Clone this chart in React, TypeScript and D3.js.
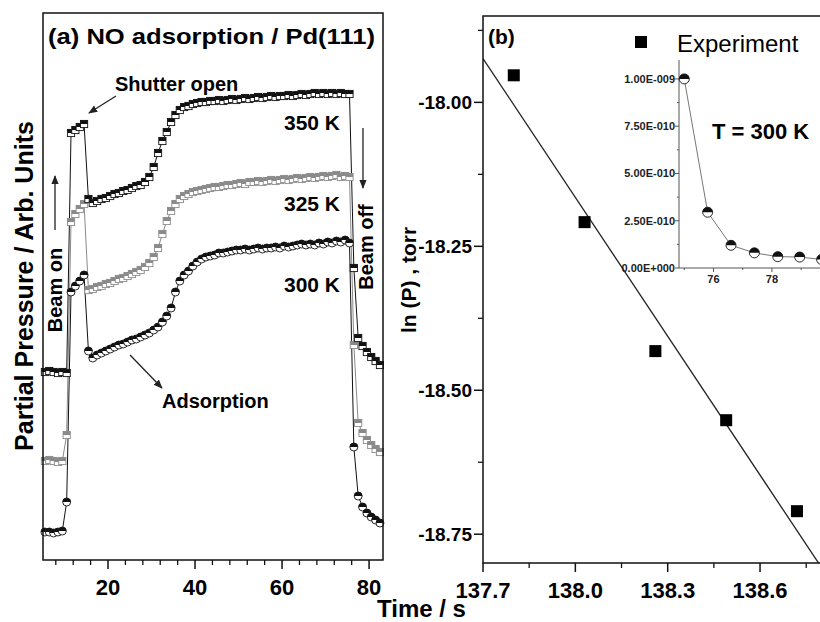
import * as d3 from 'd3';

const FONT = '"Liberation Sans", Arial, Helvetica, sans-serif';

// ---- panel (a): NO adsorption on Pd(111), time traces (arb. units) ----
const times = [
  5.5, 6.5, 7.5, 8.5, 9.5, 10.5, 11.5, 12.5, 13.5, 14.5,
  15.5, 16.5, 17.5, 18.5, 19.5, 20.5, 21.5, 22.5, 23.5, 24.5,
  25.5, 26.5, 27.5, 28.5, 29.5, 30.5, 31.5, 32.5, 33.5, 34.5,
  35.5, 36.5, 37.5, 38.5, 39.5, 40.5, 41.5, 42.5, 43.5, 44.5,
  45.5, 46.5, 47.5, 48.5, 49.5, 50.5, 51.5, 52.5, 53.5, 54.5,
  55.5, 56.5, 57.5, 58.5, 59.5, 60.5, 61.5, 62.5, 63.5, 64.5,
  65.5, 66.5, 67.5, 68.5, 69.5, 70.5, 71.5, 72.5, 73.5, 74.5,
  75.5, 76.5, 77.5, 78.5, 79.5, 80.5, 81.5, 82.5,
];

const k350 = [
  188, 189, 188, 187, 188, 187, 427, 430, 433, 436,
  361, 357, 359, 361, 362, 364, 366, 367, 369, 370,
  372, 374, 375, 378, 383, 393, 407, 419, 428, 438,
  445, 450, 453, 454, 456, 457, 458, 458, 459, 459,
  460, 459, 460, 461, 460, 461, 462, 461, 462, 463,
  462, 463, 464, 463, 464, 464, 465, 464, 465, 466,
  465, 466, 467, 466, 467, 466, 467, 466, 467, 466,
  466, 292, 222, 214, 208, 203, 199, 195,
];

const k325 = [
  99, 100, 99, 98, 99, 125, 338, 346, 351, 356,
  270, 271, 273, 274, 276, 277, 279, 281, 282, 284,
  286, 288, 290, 293, 297, 303, 312, 326, 339, 349,
  356, 361, 364, 366, 368, 369, 370, 371, 372, 373,
  373, 374, 375, 375, 376, 377, 376, 378, 378, 379,
  378, 379, 380, 379, 380, 381, 380, 381, 382, 381,
  382, 383, 382, 383, 384, 383, 384, 385, 383, 384,
  383, 215, 137, 127, 120, 115, 111, 108,
];

const k300 = [
  28, 28, 27, 28, 29, 58, 268, 274, 279, 285,
  209, 202, 205, 207, 209, 211, 213, 215, 216, 218,
  220, 221, 223, 225, 227, 230, 233, 238, 244, 252,
  268, 279, 285, 289, 294, 298, 301, 303, 304, 305,
  307, 307, 308, 309, 310, 310, 311, 310, 311, 312,
  311, 312, 312, 313, 312, 314, 313, 314, 315, 316,
  315, 316, 315, 317, 316, 318, 317, 319, 318, 320,
  317, 113, 64, 53, 47, 43, 40, 37,
];

// ---- panel (b): ln(P) vs time ----
const expTime = [137.8, 138.03, 138.26, 138.49, 138.72];
const expLnP = [-17.953, -18.208, -18.432, -18.552, -18.71];
const fitTime = [137.7, 138.8];
const fitLnP = [-17.924, -18.808];

// ---- inset: P vs time at 300 K ----
const insetTime = [75.0, 75.8, 76.6, 77.4, 78.2, 78.95, 79.7];
const insetP = [1.0e-9, 2.95e-10, 1.2e-10, 0.8e-10, 0.6e-10, 0.58e-10, 0.45e-10];
const insetYTicks = [0, 2.5e-10, 5e-10, 7.5e-10, 1e-9];
const insetYLabels = ['0.00E+000', '2.50E-010', '5.00E-010', '7.50E-010', '1.00E-009'];

const aXMajor = [20, 40, 60, 80];
const bXMajor = [137.7, 138.0, 138.3, 138.6];
const bXLabels = ['137.7', '138.0', '138.3', '138.6'];
const bXMinor = [137.85, 138.15, 138.45, 138.75];
const bYMajor = [-18.0, -18.25, -18.5, -18.75];
const bYLabels = ['-18.00', '-18.25', '-18.50', '-18.75'];
const bYMinor = [-17.875, -18.125, -18.375, -18.625];

const HalfSquare = ({ cx, cy, color }: { cx: number; cy: number; color: string }) => (
  <g>
    <rect x={cx - 3.6} y={cy - 3.6} width={7.2} height={7.2} fill="#fff" stroke={color} strokeWidth={0.9} />
    <rect x={cx - 3.6} y={cy - 3.6} width={7.2} height={3.6} fill={color} />
  </g>
);

const HalfCircle = ({ cx, cy, r }: { cx: number; cy: number; r: number }) => (
  <g>
    <circle cx={cx} cy={cy} r={r} fill="#fff" stroke="#111" strokeWidth={0.9} />
    <path d={`M${cx - r},${cy} A${r},${r} 0 0 1 ${cx + r},${cy} Z`} fill="#111" />
  </g>
);

export default function App() {
  // panel (a)
  const xA = d3.scaleLinear().domain([5.06, 83.2]).range([43, 383]);
  const yA = d3.scaleLinear().domain([0, 547]).range([560, 13]);
  const lineA = (vals: number[]) =>
    d3.line<number>().x((_, i) => xA(times[i])).y((v) => yA(v))(vals) || '';

  const series = [
    { key: 's325', vals: k325, color: '#8a8a8a', shape: 'sq' },
    { key: 's350', vals: k350, color: '#111', shape: 'sq' },
    { key: 's300', vals: k300, color: '#111', shape: 'ci' },
  ];

  // panel (b)
  const xB = d3.scaleLinear().domain([137.7, 138.8]).range([483, 821.6]);
  const yB = d3.scaleLinear().domain([-18.8, -17.85]).range([563, 16]);

  // inset
  const xI = d3.scaleLinear().domain([74.82, 80.5]).range([679, 845]);
  const yI = d3.scaleLinear().domain([0, 1.1e-9]).range([268, 60]);
  const insetLine = d3.line<number>().x((_, i) => xI(insetTime[i])).y((v) => yI(v))(insetP) || '';

  const aMinor = d3.range(8, 84, 4).filter((t) => t % 20 !== 0);

  return (
    <div style={{ position: 'absolute', left: 0, top: 0 }}>
      <svg width={820} height={622} style={{ display: 'block', background: '#fff', fontFamily: FONT }}>
        <defs>
          <marker id="ah" viewBox="0 0 10 10" refX={9} refY={5} markerWidth={7} markerHeight={7} orient="auto">
            <path d="M0,1 L10,5 L0,9 z" fill="#222" />
          </marker>
          <clipPath id="clipB">
            <rect x={483} y={16} width={340} height={547} />
          </clipPath>
        </defs>

        {/* ===== panel (a) ===== */}
        {series.map((s) => (
          <path key={s.key + 'l'} d={lineA(s.vals)} fill="none" stroke={s.color} strokeWidth={1} />
        ))}
        {series.map((s) =>
          s.vals.map((v, i) =>
            s.shape === 'sq' ? (
              <HalfSquare key={s.key + i} cx={xA(times[i])} cy={yA(v)} color={s.color} />
            ) : (
              <HalfCircle key={s.key + i} cx={xA(times[i])} cy={yA(v)} r={4} />
            )
          )
        )}

        <rect x={43} y={13} width={340} height={547} fill="none" stroke="#111" strokeWidth={1.5} />
        {aXMajor.map((t) => (
          <g key={'ax' + t}>
            <line x1={xA(t)} x2={xA(t)} y1={560} y2={569} stroke="#111" strokeWidth={1.5} />
            <text x={xA(t)} y={595} textAnchor="middle" fontSize={22} fontWeight="bold">{t}</text>
          </g>
        ))}
        {aMinor.map((t) => (
          <line key={'am' + t} x1={xA(t)} x2={xA(t)} y1={560} y2={565} stroke="#111" strokeWidth={1.3} />
        ))}

        <text x={48} y={44} fontSize={22} fontWeight="bold" textLength={327} lengthAdjust="spacingAndGlyphs">
          (a)  NO adsorption / Pd(111)
        </text>
        <text x={115} y={91} fontSize={20} fontWeight="bold">Shutter open</text>
        <text x={340} y={130} textAnchor="end" fontSize={21} fontWeight="bold">350 K</text>
        <text x={340} y={211} textAnchor="end" fontSize={21} fontWeight="bold">325 K</text>
        <text x={340} y={292} textAnchor="end" fontSize={21} fontWeight="bold">300 K</text>
        <text x={162} y={408} fontSize={20} fontWeight="bold">Adsorption</text>
        <text transform="translate(62,290) rotate(-90)" textAnchor="middle" fontSize={20} fontWeight="bold">Beam on</text>
        <text transform="translate(373,247) rotate(-90)" textAnchor="middle" fontSize={20} fontWeight="bold">Beam off</text>

        {/* annotation arrows */}
        <line x1={xA(21.84)} y1={yA(464)} x2={xA(15.63)} y2={yA(447)} stroke="#222" strokeWidth={1.3} markerEnd="url(#ah)" />
        <line x1={xA(7.82)} y1={yA(330)} x2={xA(7.82)} y2={yA(384)} stroke="#222" strokeWidth={1.3} markerEnd="url(#ah)" />
        <line x1={xA(78.6)} y1={yA(432)} x2={xA(78.6)} y2={yA(372)} stroke="#222" strokeWidth={1.3} markerEnd="url(#ah)" />
        <line x1={xA(25.06)} y1={yA(205)} x2={xA(32.4)} y2={yA(172)} stroke="#222" strokeWidth={1.3} markerEnd="url(#ah)" />

        <text transform="translate(33,286) rotate(-90)" textAnchor="middle" fontSize={25} fontWeight="bold">
          Partial Pressure / Arb. Units
        </text>
        <text x={377} y={617} fontSize={24} fontWeight="bold">Time / s</text>

        {/* ===== panel (b) ===== */}
        <path
          d={d3.line<number>().x((_, i) => xB(fitTime[i])).y((v) => yB(v))(fitLnP) || ''}
          fill="none"
          stroke="#222"
          strokeWidth={1.3}
          clipPath="url(#clipB)"
        />
        {expLnP.map((v, i) => (
          <rect key={'e' + i} x={xB(expTime[i]) - 6} y={yB(v) - 6} width={12} height={12} fill="#000" />
        ))}

        <rect x={483} y={16} width={338.6} height={547} fill="none" stroke="#111" strokeWidth={1.5} />
        {bXMajor.map((t, i) => (
          <g key={'bx' + t}>
            <line x1={xB(t)} x2={xB(t)} y1={563} y2={572} stroke="#111" strokeWidth={1.5} />
            <text x={xB(t)} y={598} textAnchor="middle" fontSize={22} fontWeight="bold">{bXLabels[i]}</text>
          </g>
        ))}
        {bXMinor.map((t) => (
          <line key={'bxm' + t} x1={xB(t)} x2={xB(t)} y1={563} y2={568} stroke="#111" strokeWidth={1.3} />
        ))}
        {bYMajor.map((v, i) => (
          <g key={'by' + v}>
            <line x1={474} x2={483} y1={yB(v)} y2={yB(v)} stroke="#111" strokeWidth={1.5} />
            <text x={472} y={yB(v) + 7} textAnchor="end" fontSize={19} fontWeight="bold">{bYLabels[i]}</text>
          </g>
        ))}
        {bYMinor.map((v) => (
          <line key={'bym' + v} x1={478} x2={483} y1={yB(v)} y2={yB(v)} stroke="#111" strokeWidth={1.3} />
        ))}

        <text transform="translate(416,280) rotate(-90)" textAnchor="middle" fontSize={21} fontWeight="bold">
          ln (P) , torr
        </text>
        <text x={488} y={44} fontSize={21} fontWeight="bold">(b)</text>
        <rect x={635} y={36} width={12} height={12} fill="#000" />
        <text x={677} y={52} fontSize={24}>Experiment</text>

        {/* inset */}
        <line x1={679} x2={679} y1={60} y2={268} stroke="#555" strokeWidth={1} />
        <line x1={679} x2={830} y1={268} y2={268} stroke="#555" strokeWidth={1} />
        {insetYTicks.map((v, i) => (
          <g key={'iy' + i}>
            <line x1={675} x2={679} y1={yI(v)} y2={yI(v)} stroke="#555" />
            <text x={675} y={yI(v) + 4} textAnchor="end" fontSize={11} fontWeight="bold" fill="#222">
              {insetYLabels[i]}
            </text>
          </g>
        ))}
        {insetYTicks.slice(0, -1).map((v, i) => (
          <line key={'iym' + i} x1={677} x2={679} y1={yI(v + 1.25e-10)} y2={yI(v + 1.25e-10)} stroke="#555" />
        ))}
        {[76, 78, 80].map((t) => (
          <g key={'ix' + t}>
            <line x1={xI(t)} x2={xI(t)} y1={268} y2={272} stroke="#555" />
            <text x={xI(t)} y={283} textAnchor="middle" fontSize={11} fontWeight="bold" fill="#222">{t}</text>
          </g>
        ))}
        {[75, 77, 79].map((t) => (
          <line key={'ixm' + t} x1={xI(t)} x2={xI(t)} y1={268} y2={270} stroke="#555" />
        ))}
        <path d={insetLine} fill="none" stroke="#777" strokeWidth={1} />
        {insetP.map((v, i) => (
          <HalfCircle key={'ip' + i} cx={xI(insetTime[i])} cy={yI(v)} r={5} />
        ))}
        <text x={712} y={139} fontSize={22} fontWeight="bold">T = 300 K</text>
      </svg>
    </div>
  );
}
